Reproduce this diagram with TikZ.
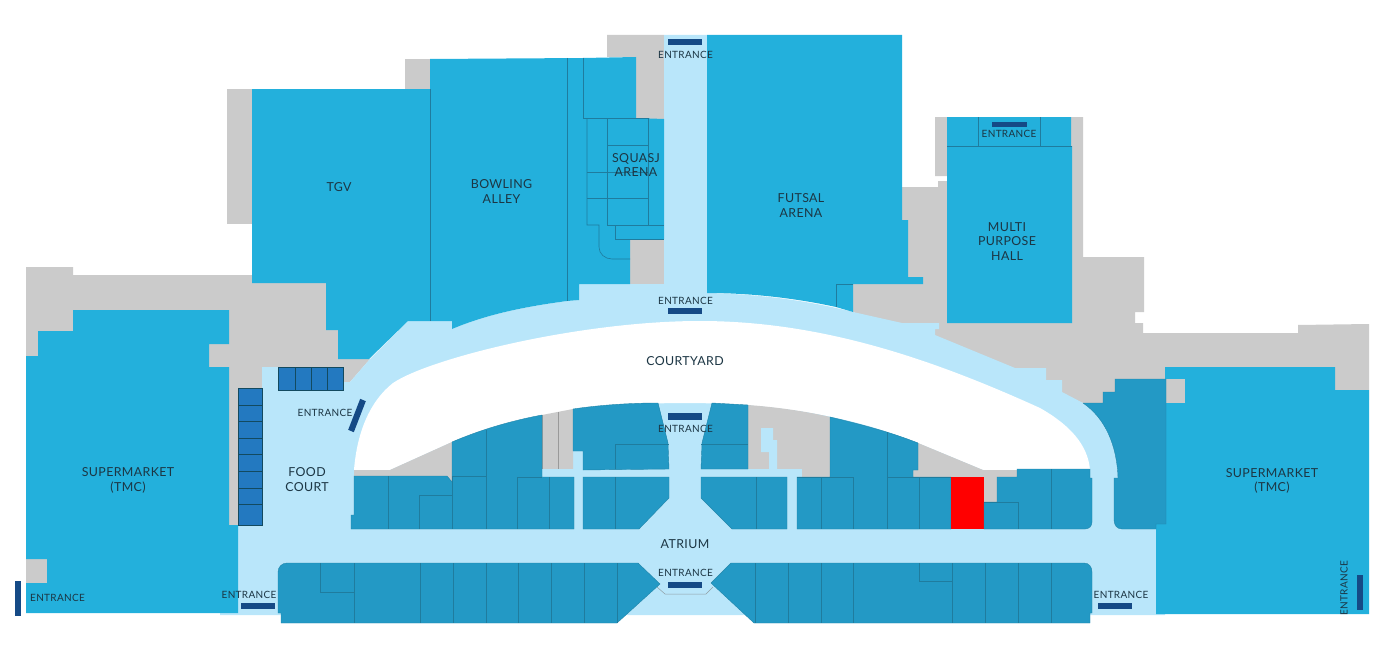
\documentclass[tikz,border=0pt]{standalone}
\usepackage{fontspec}
\setmainfont{Lato}
\newfontfamily\lbl[LetterSpace=3]{Lato}
\definecolor{roomblue}{HTML}{23B0DC}
\definecolor{floorblue}{HTML}{B9E6FA}
\definecolor{shopblue}{HTML}{2399C5}
\definecolor{backgray}{HTML}{CBCBCB}
\definecolor{stallblue}{HTML}{2379C0}
\definecolor{barblue}{HTML}{154A86}
\definecolor{wall}{HTML}{1F7C9E}
\definecolor{inktext}{HTML}{1C3644}
\tikzset{
 back/.style={fill=backgray},
 floorpart/.style={fill=floorblue},
 room/.style={fill=roomblue},
 shop/.style={fill=shopblue,draw=wall!70!shopblue,line width=.4pt,line join=round},
 wallline/.style={draw=wall,line width=.6pt},
 stall/.style={fill=stallblue,draw=wall!60!black,line width=.4pt},
 entbar/.style={fill=barblue},
 place/.style={font=\lbl\fontsize{12.4}{14.5}\selectfont,text=inktext,align=center,inner sep=0pt},
 entlabel/.style={font=\lbl\fontsize{10}{11}\selectfont,text=inktext,inner sep=0pt},
}
\begin{document}
\begin{tikzpicture}[x=1pt,y=-1pt]
\useasboundingbox (0,0) rectangle (1395,669);
% ---- gray back
\fill[back] (26,267)--(73,267)--(73,275)--(252,275)--(252,283)--(326,283)--(326,330)--(338,330)--(338,359)--(370,359)--(350,382)--(343,382)--(343,367)--(262,367)--(262,388)--(238,388)--(238,525)--(229,525)--(229,367)--(209,367)--(209,344)--(229,344)--(229,310)--(73,310)--(73,331)--(38,331)--(38,356)--(26,356)--cycle;
\fill[back] (26,559) rectangle (47,583);
\fill[back] (227,89) rectangle (252,224);
\fill[back] (405,59) rectangle (430,89);
\fill[back] (607,35)--(664,35)--(664,119)--(636,119)--(636,57)--(607,57)--cycle;
\fill[back] (630,239) rectangle (664,284);
\fill[back] (935,117)--(1083,117)--(1083,257)--(1144,257)--(1144,312)--(1135,312)--(1135,323)--(1143,323)--(1143,333)--(1298,333)--(1298,325)--(1369,324)--(1369,400)--(1166,403)--(1083,403)--(853,312)--(853,284)--(923,284)--(923,277)--(908,277)--(908,220)--(902,220)--(902,187)--(938,187)--(938,181)--(947,181)--(947,176)--(935,176)--cycle;
% ---- floor
\fill[floorpart] (664,35)--(707,35)--(707,293)
 .. controls (760,294) and (810,301) .. (853,312)
 -- (902,323)--(939,323)--(939,329)--(935,329)--(935,335)--(1015,368)--(1046,368)--(1046,380)--(1062,380)--(1062,392)--(1083,403)
 .. controls (1105,418) and (1117,445) .. (1118,478)
 -- (1114,524)--(1156,524)--(1156,614)--(1165,614)--(1165,615)--(220,615)--(220,613)--(238,613)--(238,525)--(262,525)--(262,367)--(343,367)--(343,382)--(350,382)--(370,359)--(408,321)--(452,321)--(452,329)
 .. controls (490,313) and (530,306) .. (567,301)
 --(579,300)--(579,284)--(664,284)--cycle;
% ---- courtyard
\fill[white] (354,470) .. controls (357,432) and (370,401) .. (393,383)
 .. controls (430,358) and (580,321) .. (700,321)
 .. controls (820,321) and (930,358) .. (1040,408)
 .. controls (1070,425) and (1088,445) .. (1090,470)
 -- (983,470) -- (918,443) .. controls (850,415) and (770,403) .. (685,403)
 .. controls (600,403) and (520,415) .. (452,442) -- (390,470) -- cycle;
% ---- gray patches in the mall block
\fill[back] (354,470)--(390,470)--(452,442)--(452,482)--(447,476)--(354,476)--cycle;
\fill[back] (542,415)--(573,409)--(573,469)--(542,469)--cycle;
\draw[draw=gray!80,line width=.5pt] (558,412)--(558,469) (542,415)--(542,469)--(573,469);
\fill[back] (748,405) .. controls (775,407) and (805,411) .. (830,417) --(830,477)--(802,477)--(802,469)--(748,469)--cycle;
\fill[back] (918,443)--(983,470)--(1017,470)--(1017,477)--(997,477)--(997,502)--(983,502)--(983,477)--(913,477)--(913,470)--(918,470)--cycle;
% ---- corridors
\fill[floorpart] (542,469) rectangle (669,477);
\fill[floorpart] (574,451) rectangle (583,529);
\fill[floorpart] (701,469) rectangle (802,477);
\fill[floorpart] (787,477) rectangle (797,529);
\fill[floorpart] (761,428)--(773,428)--(773,440)--(777,440)--(777,469)--(769,469)--(769,452)--(761,452)--cycle;
% ---- large rooms
\fill[room] (73,310)--(229,310)--(229,344)--(209,344)--(209,367)--(229,367)--(229,525)--(238,525)--(238,613)--(26,613)--(26,583)--(47,583)--(47,559)--(26,559)--(26,356)--(38,356)--(38,331)--(73,331)--cycle;
\fill[room] (252,89)--(430,89)--(430,59)--(583,58)--(636,57)--(636,118)--(664,119)--(664,239)--(630,239)--(630,284)--(579,284)--(579,300)--(567,301)
 .. controls (530,306) and (490,313) .. (452,329)--(452,321)--(408,321)--(369,359)--(338,359)--(338,330)--(326,330)--(326,283)--(252,283)--cycle;
\fill[room] (707,35)--(902,35)--(902,220)--(908,220)--(908,277)--(923,277)--(923,284)--(853,284)--(853,312)--(836,307)
 .. controls (795,298) and (750,293) .. (707,293)--cycle;
\fill[room] (947,117)--(1071,117)--(1071,146)--(1072,146)--(1072,323)--(947,323)--cycle;
\fill[room] (1165,367)--(1335,367)--(1335,390)--(1369,390)--(1369,614)--(1156,614)--(1156,524)--(1166,524)--(1166,403)--(1185,403)--(1185,379)--(1165,379)--cycle;
\fill[back] (1165,379) rectangle (1185,403);
% room lines
\draw[wallline] (430,89)--(430,321);
\draw[wallline] (567,58)--(567,301);
\draw[wallline] (583,58)--(583,118)--(648,118);
\draw[wallline] (587,118)--(587,225)--(599,225)--(599,247) .. controls (599,254) and (605,259) .. (612,259) --(630,259);
\draw[wallline] (607,118)--(607,225) (648,118)--(648,225);
\draw[wallline] (607,145)--(648,145) (587,172)--(648,172) (587,198)--(648,198) (607,225)--(664,225);
\draw[wallline] (615,225)--(615,239)--(664,239);
\draw[wallline] (836,307)--(836,284)--(853,284);
\draw[wallline] (947,146)--(1072,146) (978,117)--(978,146) (1040,117)--(1040,146);
% ---- stalls
\filldraw[stall] (278,367) rectangle (343,390);
\draw[stall] (295,367)--(295,390) (311,367)--(311,390) (327,367)--(327,390);
\filldraw[stall] (238,388) rectangle (262,525);
\draw[stall] (238,405)--(262,405) (238,421)--(262,421) (238,438)--(262,438) (238,454)--(262,454) (238,471)--(262,471) (238,488)--(262,488) (238,504)--(262,504);
% ---- shops, upper row west
\filldraw[shop] (354,476)--(447,476)--(452,482)--(452,442) .. controls (480,430) and (510,421) .. (542,415) --(542,477)--(574,477)--(574,529)--(351,529)--(351,515)--(354,515)--cycle;
\draw[wallline] (388,476)--(388,529) (419,529)--(419,495)--(452,495) (452,476)--(452,529) (452,476)--(486,476) (486,430)--(486,529) (517,529)--(517,477)--(542,477) (549,477)--(549,529);
\filldraw[shop] (573,409) .. controls (600,405) and (630,403) .. (658,403) --(668,443)--(669,469)--(583,470)--(583,451)--(573,451)--cycle;
\draw[wallline] (615,469)--(615,444)--(669,444);
\filldraw[shop] (583,477)--(669,477)--(669,498)--(639,529)--(583,529)--cycle;
\draw[wallline] (615,477)--(615,529);
\filldraw[shop] (712,403)--(748,405)--(748,469)--(701,469)--(702,443)--cycle;
\draw[wallline] (701,444)--(748,444);
\filldraw[shop] (701,477)--(787,477)--(787,529)--(732,529)--(701,498)--cycle;
\draw[wallline] (756,477)--(756,529);
\filldraw[shop] (797,477)--(830,477)--(830,417) .. controls (860,424) and (890,432) .. (918,443) --(918,470)--(913,470)--(913,477)--(951,477)--(951,529)--(797,529)--cycle;
\draw[wallline] (797,477)--(853,477)--(853,529) (821,477)--(821,529) (887,432)--(887,529) (887,477)--(951,477) (919,477)--(919,529);
\fill[red] (951,477) rectangle (984,529);
\filldraw[shop] (984,529)--(984,502)--(997,502)--(997,477)--(1017,477)--(1017,469)--(1090,469)--(1090,478)--(1092,478)--(1092,522) .. controls (1092,526) and (1089,529) .. (1085,529) --cycle;
\draw[wallline] (984,502)--(1018,502)--(1018,529) (1051,469)--(1051,529);
% east corner shop
\filldraw[shop] (1083,403)--(1103,403)--(1103,392)--(1115,392)--(1115,379)--(1166,379)--(1166,524)--(1156,524)--(1156,529)--(1122,529) .. controls (1117,529) and (1114,525) .. (1114,520) --(1114,478)--(1118,478) .. controls (1117,445) and (1105,418) .. (1083,403)--cycle;
% ---- lower row
\filldraw[shop] (287,563)--(638,563)--(660,584)--(617,623)--(281,623)--(281,613)--(278,613)--(278,572) .. controls (278,567) and (282,563) .. (287,563)--cycle;
\draw[wallline] (320,563)--(320,592)--(354,592) (354,563)--(354,623) (420,563)--(420,623) (453,563)--(453,623) (486,563)--(486,623) (518,563)--(518,623) (551,563)--(551,623) (584,563)--(584,623) (617,563)--(617,623);
\filldraw[shop] (731,563)--(1084,563) .. controls (1089,563) and (1092,567) .. (1092,572) --(1092,613)--(1090,613)--(1090,623)--(754,623)--(711,583)--cycle;
\draw[wallline] (755,563)--(755,623) (788,563)--(788,623) (821,563)--(821,623) (853,563)--(853,623) (919,563)--(919,581)--(952,581) (952,563)--(952,623) (985,563)--(985,623) (1018,563)--(1018,623) (1051,563)--(1051,623);
\draw[draw=gray!70!floorblue,line width=.5pt] (657,587)--(665,594)--(706,594)--(713,587);
% ---- entrance bars
\fill[entbar] (15,581) rectangle (21,616);
\fill[entbar] (241,603) rectangle (275,609);
\fill[entbar] (668,39) rectangle (702,45);
\fill[entbar] (668,308) rectangle (702,314);
\fill[entbar] (668,413) rectangle (702,420);
\fill[entbar] (668,582) rectangle (702,588);
\fill[entbar] (992,122) rectangle (1027,127);
\fill[entbar] (1098,603) rectangle (1132,609);
\fill[entbar] (1357,575) rectangle (1363,610);
\fill[entbar] (365.8,401.2)--(360.2,398.8)--(348.2,429.8)--(353.8,432.2)--cycle;
% ---- labels
\node[entlabel] (e1) at (57.5,598) {ENTRANCE};
\node[entlabel] (e2) at (249,595) {ENTRANCE};
\node[entlabel] (e3) at (325,413) {ENTRANCE};
\node[entlabel] (e4) at (685.5,54.5) {ENTRANCE};
\node[entlabel] (e5) at (685.5,300.5) {ENTRANCE};
\node[entlabel] (e6) at (685.5,429) {ENTRANCE};
\node[entlabel] (e7) at (685.5,572.5) {ENTRANCE};
\node[entlabel] (e8) at (1009,133.5) {ENTRANCE};
\node[entlabel] (e9) at (1121,594.5) {ENTRANCE};
\node[entlabel,rotate=90] (e10) at (1344,588) {ENTRANCE};
\node[place] (tgv) at (339,187) {TGV};
\node[place] (bowl) at (501.5,191.5) {BOWLING\\ALLEY};
\node[place] (squash) at (636,165) {SQUASJ\\ARENA};
\node[place] (futsal) at (801,205.5) {FUTSAL\\ARENA};
\node[place] (multi) at (1007,241.5) {MULTI\\PURPOSE\\HALL};
\node[place] (court) at (685,361) {COURTYARD};
\node[place] (sw) at (128,480.5) {SUPERMARKET\\(TMC)};
\node[place] (se) at (1272,481) {SUPERMARKET\\(TMC)};
\node[place] (food) at (307,479.5) {FOOD\\COURT};
\node[place] (atrium) at (685,544.5) {ATRIUM};
\end{tikzpicture}
\end{document}
